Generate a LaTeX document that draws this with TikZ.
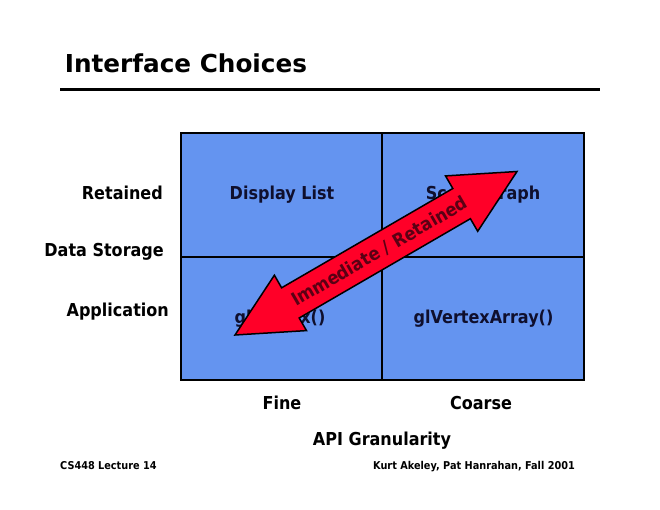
\documentclass[tikz,border=0pt]{standalone}
\usepackage{fontspec}
\newfontfamily\lblfont[FakeStretch=0.9]{DejaVu Sans}
\newfontfamily\titlefont{DejaVu Sans}
\definecolor{cellblue}{RGB}{100,148,240}
\definecolor{arrowred}{RGB}{255,0,40}
\definecolor{arrowtxt}{RGB}{90,0,20}
\definecolor{celltxt}{RGB}{15,15,45}
\begin{document}
\begin{tikzpicture}[x=1pt,y=-1pt,
  lbl/.style={font=\lblfont\bfseries\fontsize{17.8}{20}\selectfont, inner sep=0, anchor=base, text=black},
  celllbl/.style={lbl, text=celltxt},
  foot/.style={font=\lblfont\bfseries\fontsize{10.8}{13}\selectfont, inner sep=0},
  cell/.style={draw=black, line width=2pt, fill=cellblue, inner sep=0, minimum height=124pt},
  dblarrow/.style={draw=black, line width=1.5pt, fill=arrowred, line join=miter},
  arrowlbl/.style={font=\lblfont\bfseries\fontsize{18.3}{20}\selectfont, inner sep=0, text=arrowtxt}]
\useasboundingbox (0,0) rectangle (660,510);
\fill[white] (0,0) rectangle (660,510);

% title and rule
\node[font=\titlefont\bfseries\fontsize{24.7}{28}\selectfont, inner sep=0, anchor=base west] (title) at (64.7,73) {Interface Choices};
\coordinate (r1) at (60,89.5);
\coordinate (r2) at (600,89.5);
\draw[line width=3pt] (r1) -- (r2);

% cells
\node[cell, minimum width=201pt] (c11) at (281.5,195) {};
\node[cell, minimum width=202pt] (c12) at (483,195) {};
\node[cell, minimum width=201pt, minimum height=123pt] (c21) at (281.5,318.5) {};
\node[cell, minimum width=202pt, minimum height=123pt] (c22) at (483,318.5) {};

\node[celllbl] (dl) at (282,199.5) {Display List};
\node[celllbl] (sg) at (483,199.5) {Scene Graph};
\node[celllbl] (gv) at (280,323.5) {glVertex()};
\node[celllbl] (gva) at (483.5,323.5) {glVertexArray()};

% row labels
\node[lbl, anchor=base east] (ret) at (163,200) {Retained};
\node[lbl, anchor=base east] (ds) at (164,256) {Data Storage};
\node[lbl, anchor=base east] (app) at (169,316) {Application};

% column labels
\node[lbl] (fine) at (282,409) {Fine};
\node[lbl] (coarse) at (481,409) {Coarse};
\node[lbl] (api) at (382,445) {API Granularity};

% footers
\node[foot, anchor=base west] (f1) at (60,469) {CS448 Lecture 14};
\node[foot, anchor=base east] (f2) at (575,469) {Kurt Akeley, Pat Hanrahan, Fall 2001};

% double arrow
\coordinate (t1) at (235,335);
\coordinate (t2) at (517,171.5);
\draw[dblarrow] (t1) -- (306.5,330.6) -- (299.2,318.0) -- (470.4,218.7) -- (477.7,231.3)
  -- (t2) -- (445.5,175.9) -- (452.8,188.5) -- (281.6,287.8) -- (274.4,275.2) -- cycle;
\node[arrowlbl, rotate=30.1] (imm) at (379.5,251.5) {Immediate / Retained};
\end{tikzpicture}
\end{document}
